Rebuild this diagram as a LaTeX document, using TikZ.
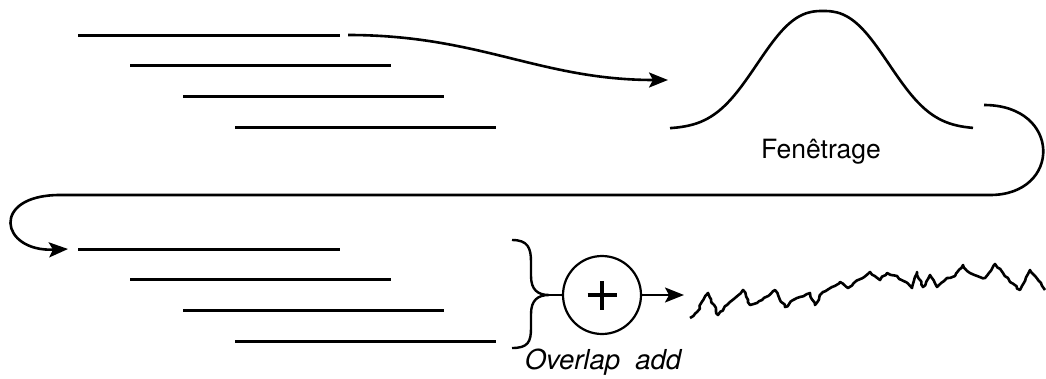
\documentclass[tikz,border=0pt]{standalone}
\usepackage{fontspec}
\setmainfont{TeX Gyre Heros}
\usetikzlibrary{arrows.meta,decorations.pathmorphing}

\begin{document}
\begin{tikzpicture}[x=1pt,y=-1pt,
  seg/.style={line width=3pt},
  flow/.style={line width=2.6pt, -{Stealth[length=19pt,width=15pt,inset=4pt]}},
  lbl/.style={font=\fontsize{26.5}{30}\selectfont, inner sep=0pt}]
\useasboundingbox (0,0) rectangle (1046,378);

% Signal cut into overlapping frames
\foreach \i/\xa/\xb/\ya in {1/78/340/35, 2/130/391/65, 3/183/444/96, 4/235/496/127}
  \draw[seg] (\xa,\ya) -- (\xb,\ya);

% Window
\draw[line width=2.6pt] plot[domain=670:973, samples=90, smooth]
  (\x,{129-118*exp(-(abs(\x-823)/81)^2.5)});
\node[lbl] (win label) at (821,152) {Fenêtrage};

% Coordinates for the connectors
\coordinate (split out) at (348,35);
\coordinate (win in) at (668,80);
\coordinate (win out) at (984,105);
\coordinate (frames in) at (68,249);

\draw[flow] (split out) .. controls (480,35) and (540,80) .. (win in);
\draw[flow] (win out) .. controls (1062,105) and (1062,195) .. (990,195)
  -- (60,195) .. controls (-10,195) and (0,252) .. (frames in);

% Windowed frames
\foreach \i/\xa/\xb/\ya in {1/78/340/249, 2/130/391/279, 3/183/444/310, 4/235/496/341}
  \draw[seg] (\xa,\ya) -- (\xb,\ya);

% Brace and sum
\coordinate (brace tip) at (549,295);
\draw[line width=2.4pt] (512,240) .. controls (528,240) and (531,248) .. (531,262)
  -- (531,276) .. controls (531,290) and (538,295) .. (brace tip)
  .. controls (538,295) and (531,300) .. (531,314) -- (531,328)
  .. controls (531,342) and (528,348) .. (512,348);
\node[circle, draw, line width=2.2pt, minimum size=78pt, inner sep=0pt] (sum) at (602,295) {};
\draw[line width=4pt] ([xshift=-14.5pt]sum.center) -- ([xshift=14.5pt]sum.center)
  ([yshift=-14.5pt]sum.center) -- ([yshift=14.5pt]sum.center);
\draw[line width=2.4pt] (brace tip) -- (sum);
\node[lbl, font=\fontsize{27.5}{30}\selectfont\itshape] (ola label) at (603,362) {Overlap\ \ add};

% Reconstructed signal
\coordinate (sig in) at (684,295);
\draw[flow, line width=2.2pt] (sum) -- (sig in);
\pgfmathsetseed{42}
\draw[line width=2.6pt, line join=round, decorate,
  decoration={random steps, segment length=3.5pt, amplitude=1.1pt}]
  (690,318) -- (697,312) -- (708,293) -- (718,315) -- (727,305)
  -- (735,298) -- (743,290) -- (750,305) -- (762,300) -- (775,290) -- (785,307) -- (797,298)
  -- (810,293) -- (815,305) -- (823,292) -- (832,287) -- (840,282) -- (848,288) -- (858,280)
  -- (870,272) -- (880,280) -- (887,273) -- (897,276) -- (912,288) -- (917,272) -- (923,287)
  -- (930,275) -- (937,287) -- (947,278) -- (955,276) -- (963,265) -- (970,273) -- (985,278)
  -- (995,264) -- (1003,273) -- (1010,282) -- (1020,290) -- (1030,270) -- (1038,280) -- (1045,290);
\end{tikzpicture}
\end{document}
